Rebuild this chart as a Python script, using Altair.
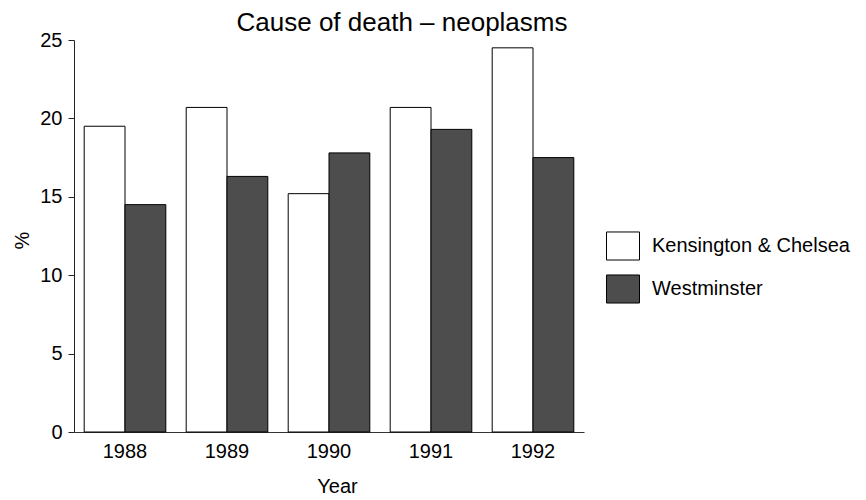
import altair as alt
import pandas as pd

years = ["1988", "1989", "1990", "1991", "1992"]
areas = ["Kensington & Chelsea", "Westminster"]
kensington = [19.5, 20.7, 15.2, 20.7, 24.5]
westminster = [14.5, 16.3, 17.8, 19.3, 17.5]
colors = ["#ffffff", "#4d4d4d"]

rows = []
for i, y in enumerate(years):
    rows.append({"Year": y, "Area": areas[0], "pct": kensington[i]})
    rows.append({"Year": y, "Area": areas[1], "pct": westminster[i]})
df = pd.DataFrame(rows)

FONT = "Liberation Sans"

chart = alt.Chart(df).mark_bar(stroke="black", strokeWidth=1).encode(
    x=alt.X("Year:N", sort=years,
            scale=alt.Scale(paddingInner=0.2, paddingOuter=0.1),
            axis=alt.Axis(title="Year", labelAngle=0, ticks=False,
                          labelFontSize=20, labelPadding=9,
                          titleFontSize=20, titleFontWeight="normal",
                          titleX=263, titleY=54, titleBaseline="middle",
                          domainColor="#333333", labelColor="black",
                          titleColor="black")),
    xOffset=alt.XOffset("Area:N", sort=areas, scale=alt.Scale(paddingInner=0, paddingOuter=0)),
    y=alt.Y("pct:Q", scale=alt.Scale(domain=[0, 25], nice=False),
            axis=alt.Axis(title="%", values=[0, 5, 10, 15, 20, 25], grid=False,
                          tickSize=6, labelPadding=6, labelFontSize=20,
                          titleFontSize=20, titleFontWeight="normal",
                          titleAngle=270, titleX=-52, titleY=200,
                          titleAlign="center", titleBaseline="middle",
                          domainColor="#222222", tickColor="#222222",
                          labelColor="black", titleColor="black")),
    color=alt.Color("Area:N", sort=areas,
                    scale=alt.Scale(domain=areas, range=colors),
                    legend=alt.Legend(title=None, orient="none",
                                      legendX=532, legendY=189,
                                      symbolType="M-1,-0.85H1V0.85H-1Z",
                                      symbolSize=1089, symbolStrokeColor="black",
                                      symbolStrokeWidth=1, symbolOpacity=1,
                                      labelFontSize=20, labelOffset=12,
                                      labelLimit=400,
                                      rowPadding=9, padding=0,
                                      labelColor="black")),
).properties(
    width=510,
    height=392,
    title=alt.TitleParams("Cause of death \u2013 neoplasms", fontSize=26,
                          fontWeight="normal", color="black", anchor="middle",
                          dx=73, dy=16, offset=10, font=FONT),
    autosize=alt.AutoSizeParams(type="none"),
    padding={"left": 66, "top": 32, "right": 274, "bottom": 66},
).configure(
    font=FONT,
).configure_view(
    stroke=None,
).configure_axis(
    labelFont=FONT, titleFont=FONT,
).configure_legend(
    labelFont=FONT,
)

chart.save("out.html", embed_options={"renderer": "svg", "actions": False})
